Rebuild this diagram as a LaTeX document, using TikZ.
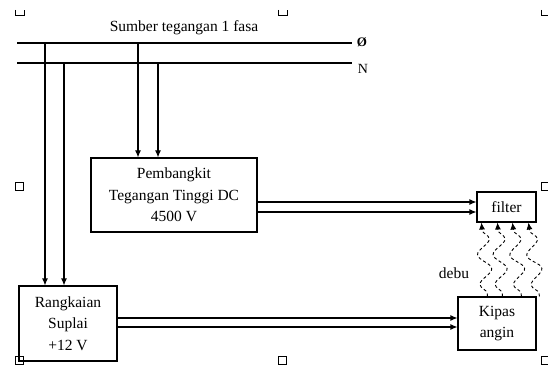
\documentclass[tikz,border=0pt]{standalone}
\usepackage{fontspec}
\setmainfont{Liberation Serif}
\usetikzlibrary{arrows.meta,decorations.pathmorphing}

\begin{document}
\begin{tikzpicture}[x=1pt, y=-1pt, >={Latex[length=7pt,width=6pt]},
  line width=1.1pt,
  blok/.style={draw, rectangle, align=center, inner sep=0pt,
    font=\fontsize{15.5}{21.5}\selectfont},
  teks/.style={inner sep=0pt, font=\fontsize{15.5}{17}\selectfont},
  handle/.style={draw, line width=0.9pt, minimum size=8pt, inner sep=0pt},
  debu/.style={->, line width=0.9pt, dash pattern=on 3pt off 2.5pt, decorate,
    decoration={snake, amplitude=6.5pt, segment length=30pt, pre length=3pt, post length=6pt}}]

  \clip (0,0) rectangle (548,366);

  % ============== Source lines ==============
  \node[teks] (sumber) at (184,28) {Sumber tegangan 1 fasa};
  \coordinate (fasaL) at (17,43);
  \coordinate (fasaR) at (352,43);
  \coordinate (nolL) at (17,63);
  \coordinate (nolR) at (352,63);
  \draw (fasaL) -- (fasaR);
  \draw (nolL) -- (nolR);
  \node[teks, font=\fontsize{13}{15}\selectfont\bfseries] (fasa) at (362,42) {Ø};
  \node[teks, font=\fontsize{14}{16}\selectfont] (nol) at (363,69) {N};

  % ============== Blocks ==============
  \node[blok, minimum width=166pt, minimum height=74pt] (hv) at (174,195)
    {Pembangkit\\Tegangan Tinggi DC\\4500 V};
  \node[blok, minimum width=98pt, minimum height=75pt] (suplai) at (68,323.5)
    {Rangkaian\\Suplai\\+12 V};
  \node[blok, minimum width=59pt, minimum height=30pt] (filter) at (506.5,207) {filter};
  \node[blok, minimum width=78pt, minimum height=53pt] (kipas) at (497,323.5)
    {Kipas\\angin};
  \node[teks] (debutxt) at (454,273) {debu};

  % Taps from the lines
  \coordinate (tap1) at (45,43);
  \coordinate (tap2) at (64,63);
  \coordinate (tap3) at (138,43);
  \coordinate (tap4) at (158,63);
  \draw[->] (tap1) -- (tap1 |- suplai.north);
  \draw[->] (tap2) -- (tap2 |- suplai.north);
  \draw[->] (tap3) -- (tap3 |- hv.north);
  \draw[->] (tap4) -- (tap4 |- hv.north);

  % Outputs
  \draw[->] ([yshift=-7pt]hv.east) -- ([yshift=-7pt]hv.east -| filter.west);
  \draw[->] ([yshift=-17pt]hv.east) -- ([yshift=-17pt]hv.east -| filter.west);
  \draw[->] ([yshift=5.5pt]suplai.east) -- ([yshift=5.5pt]suplai.east -| kipas.west);
  \draw[->] ([yshift=-3.5pt]suplai.east) -- ([yshift=-3.5pt]suplai.east -| kipas.west);

  % Dust flow
  \foreach \a/\b in {30/5, 45/21, 64/36, 82/52}
    \draw[debu] ([xshift=\a pt]kipas.north west) -- ([xshift=\b pt]filter.south west);

  % ============== Handles ==============
  \draw[line width=0.9pt] (15,10) |- (24,15) -- (24,10);
  \draw[line width=0.9pt] (278,10) |- (287,15) -- (287,10);
  \draw[line width=0.9pt] (541,10) |- (550,15);
  \node[handle] (hml) at (19.5,186) {};
  \node[handle] (hmr) at (545.5,186) {};
  \node[handle] (hbl) at (19.5,360) {};
  \node[handle] (hbm) at (282,360) {};
  \node[handle] (hbr) at (545.5,360) {};

\end{tikzpicture}
\end{document}
